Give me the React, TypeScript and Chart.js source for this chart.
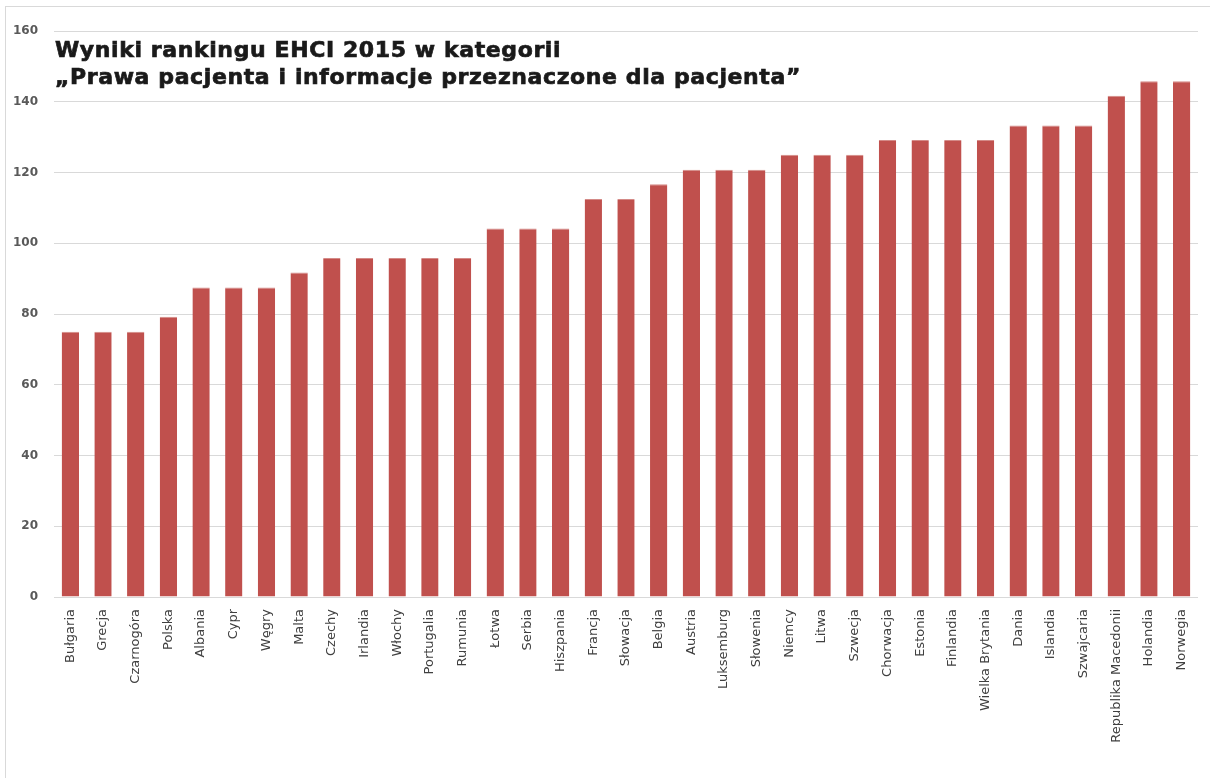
import React, { useEffect, useRef } from "react";
import { Chart, registerables } from "chart.js";

Chart.register(...registerables);

const categories: string[] = [
  "Bułgaria", "Grecja", "Czarnogóra", "Polska", "Albania", "Cypr", "Węgry", "Malta",
  "Czechy", "Irlandia", "Włochy", "Portugalia", "Rumunia", "Łotwa", "Serbia", "Hiszpania",
  "Francja", "Słowacja", "Belgia", "Austria", "Luksemburg", "Słowenia", "Niemcy", "Litwa",
  "Szwecja", "Chorwacja", "Estonia", "Finlandia", "Wielka Brytania", "Dania", "Islandia",
  "Szwajcaria", "Republika Macedonii", "Holandia", "Norwegia",
];

const scores: number[] = [
  75, 75, 75, 79.2, 87.5, 87.5, 87.5, 91.7,
  95.8, 95.8, 95.8, 95.8, 95.8, 104.2, 104.2, 104.2,
  112.5, 112.5, 116.7, 120.8, 120.8, 120.8, 125, 125,
  125, 129.2, 129.2, 129.2, 129.2, 133.3, 133.3,
  133.3, 141.7, 145.8, 145.8,
];

const titleLines: string[] = [
  "Wyniki rankingu EHCI 2015 w kategorii",
  "„Prawa pacjenta i informacje przeznaczone dla pacjenta”",
];

const yMin = 0;
const yMax = 160;
const yStep = 20;

const titlePlugin = {
  id: "overlayTitle",
  afterDraw(chart: any) {
    const ctx = chart.ctx as CanvasRenderingContext2D;
    ctx.save();
    ctx.fillStyle = "#1a1a1a";
    ctx.strokeStyle = "#1a1a1a";
    ctx.lineWidth = 0.7;
    ctx.font = "bold 22px 'DejaVu Sans'";
    try { (ctx as any).letterSpacing = "0.6px"; } catch (e) {}
    ctx.textAlign = "left";
    ctx.textBaseline = "alphabetic";
    ctx.fillText(titleLines[0], 55, 57);
    ctx.strokeText(titleLines[0], 55, 57);
    ctx.fillText(titleLines[1], 55, 84);
    ctx.strokeText(titleLines[1], 55, 84);
    ctx.restore();
  },
};

export default function App() {
  const ref = useRef<HTMLCanvasElement | null>(null);

  useEffect(() => {
    if (!ref.current) return;
    const chart = new Chart(ref.current, {
      type: "bar",
      data: {
        labels: categories,
        datasets: [
          {
            data: scores,
            backgroundColor: "#c0504d",
            borderColor: "#d48a87",
            borderWidth: { top: 1, left: 0, right: 0, bottom: 0 } as any,
            barPercentage: 0.53,
            categoryPercentage: 1,
          },
        ],
      },
      options: {
        animation: false,
        responsive: false,
        maintainAspectRatio: false,
        layout: { padding: { top: 31, left: 0, right: 12, bottom: 0 } },
        plugins: {
          legend: { display: false },
          title: { display: false },
          tooltip: { enabled: false },
        },
        scales: {
          x: {
            grid: { display: false, drawTicks: false },
            border: { display: false },
            afterFit(scale: any) {
              scale.height = 181;
            },
            ticks: {
              minRotation: 90,
              maxRotation: 90,
              autoSkip: false,
              padding: 12,
              color: "#404040",
              font: { family: "'DejaVu Sans'", size: 13 },
            },
          },
          y: {
            min: yMin,
            max: yMax,
            afterFit(scale: any) {
              scale.width = 54;
            },
            grid: { color: "#d9d9d9", lineWidth: 1, drawTicks: false },
            border: { display: false },
            ticks: {
              stepSize: yStep,
              padding: 16,
              color: "#595959",
              font: { family: "'DejaVu Sans'", size: 12, weight: "bold" },
            },
          },
        },
      },
      plugins: [titlePlugin],
    });
    return () => chart.destroy();
  }, []);

  return (
    <div style={{ position: "fixed", left: 0, top: 0, width: 1210, height: 778, background: "#fff", overflow: "hidden" }}>
      <div
        style={{
          position: "absolute",
          left: 5,
          top: 6,
          width: 1230,
          height: 800,
          border: "1px solid #d9d9d9",
          boxSizing: "border-box",
        }}
      />
      <canvas ref={ref} width={1210} height={778} style={{ position: "absolute", left: 0, top: 0 }} />
    </div>
  );
}
